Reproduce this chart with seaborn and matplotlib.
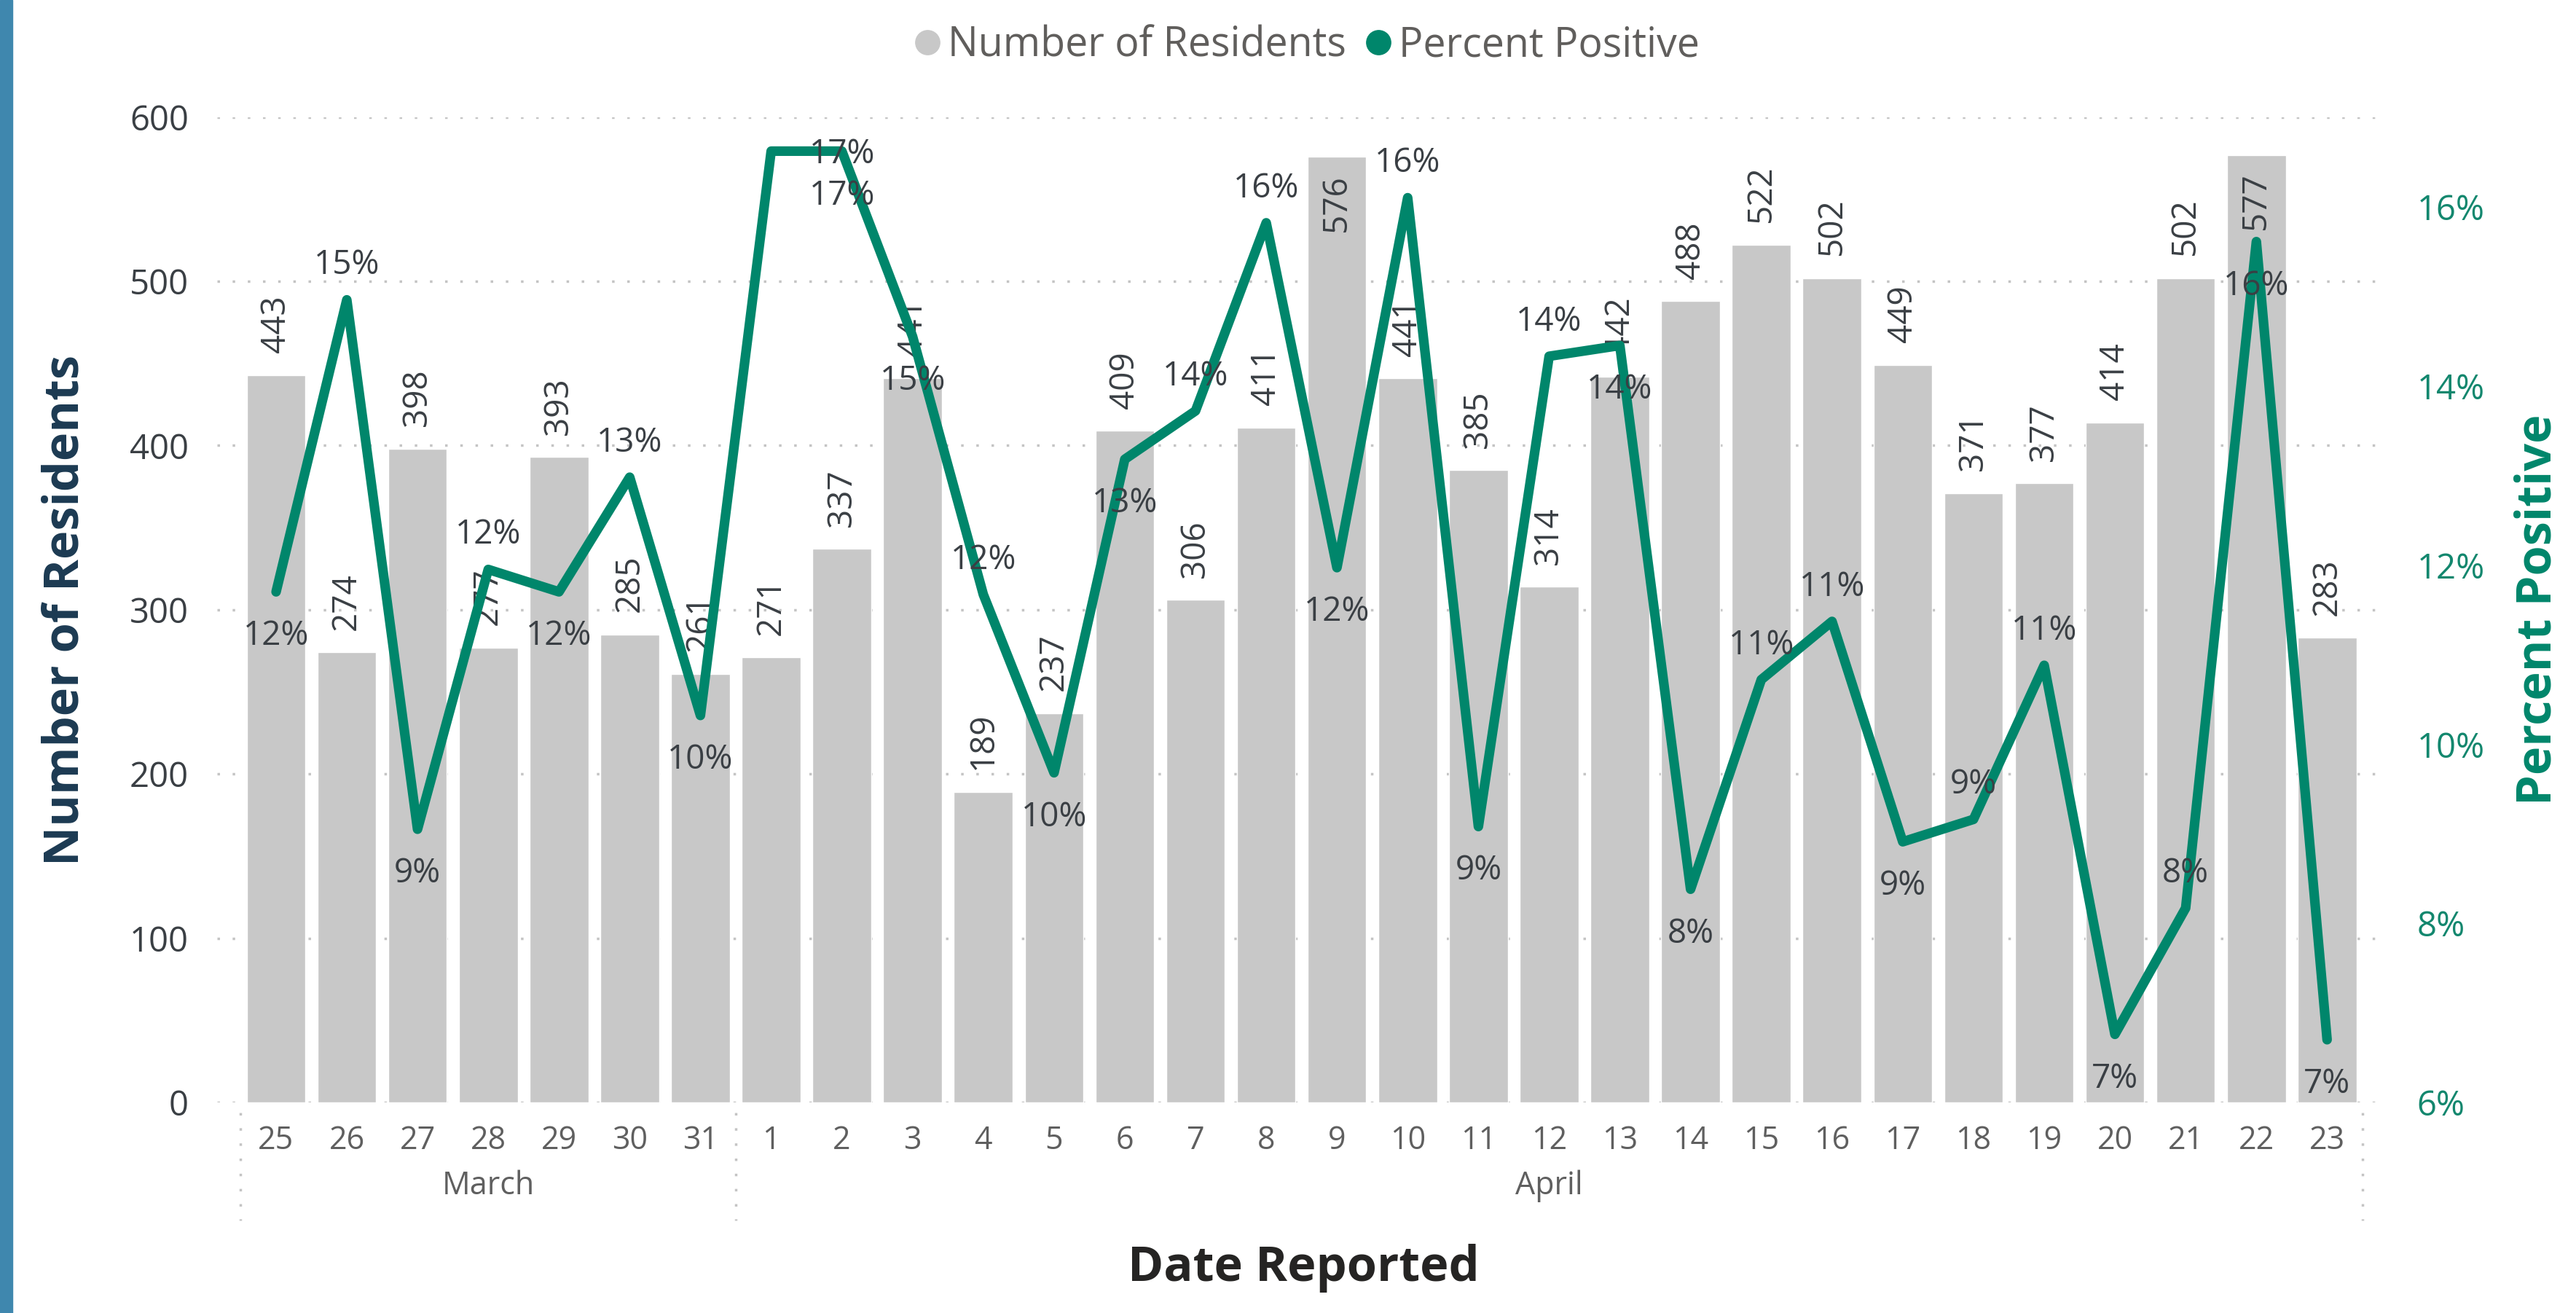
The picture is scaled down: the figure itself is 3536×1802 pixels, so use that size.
import numpy as np
import pandas as pd
import matplotlib.pyplot as plt
import matplotlib.transforms as mtransforms
from matplotlib.lines import Line2D
from matplotlib.patches import Rectangle
import seaborn as sns

# ----------- DONNÉES ------------
days = ['25', '26', '27', '28', '29', '30', '31',
        '1', '2', '3', '4', '5', '6', '7', '8', '9', '10', '11', '12',
        '13', '14', '15', '16', '17', '18', '19', '20', '21', '22', '23']
months = ['March', 'April']
month_sizes = [7, 23]

residents = [443, 274, 398, 277, 393, 285, 261,
             271, 337, 441, 189, 237, 409, 306, 411, 576, 441, 385, 314,
             442, 488, 522, 502, 449, 371, 377, 414, 502, 577, 283]

pct_positive = [11.7, 14.96, 9.05, 11.95, 11.7, 12.98, 10.32,
                16.62, 16.62, 14.55, 11.67, 9.68, 13.18, 13.72, 15.82, 11.97, 16.1, 9.08, 14.33,
                14.45, 8.38, 10.72, 11.37, 8.91, 9.16, 10.88, 6.76, 8.17, 15.61, 6.7]

# position des étiquettes du pourcentage : a = dessus, b = dessous, c = sur la ligne (décalée)
pct_label_pos = ['b', 'a', 'b', 'a', 'b', 'a', 'b',
                 'c', 'b', 'b', 'a', 'b', 'b', 'a', 'a', 'b', 'a', 'b', 'a',
                 'b', 'b', 'a', 'a', 'b', 'a', 'a', 'b', 'a', 'b', 'b']

df = pd.DataFrame({'day': days, 'residents': residents, 'pct': pct_positive})
df['pos'] = np.arange(len(df))

# ----------- STYLE ------------
sns.set_theme(style='white')
plt.rcParams['font.family'] = ['Open Sans', 'DejaVu Sans']

BAR = '#C8C8C8'
GREEN = '#00866B'
NAVY = '#1C3A52'
TXT = '#3A3F44'

fig = plt.figure(figsize=(35.36, 18.02), dpi=100)
fig.patch.set_facecolor('white')
ax = fig.add_axes([298 / 3536, 1 - 1513 / 1802, (3272 - 298) / 3536, (1513 - 160.7) / 1802])

# bande bleue à gauche
fig.patches.append(Rectangle((0, 0), 17 / 3536, 1, transform=fig.transFigure,
                             color='#3F87AE', zorder=0))

# grille pointillée
for v in range(0, 601, 100):
    ax.axhline(v, color='#C4C4C4', lw=2.5, ls=(0, (1, 5)), zorder=0)

sns.barplot(data=df, x='day', y='residents', order=days, color=BAR,
            saturation=1, width=0.83, ax=ax, zorder=2)

ax.set_ylim(0, 600)
ax.set_xlim(-0.834, 29.8)
ax.set_yticks(range(0, 601, 100))
ax.tick_params(axis='y', labelsize=34, labelcolor=TXT, length=0, pad=28)
ax.tick_params(axis='x', labelsize=31, labelcolor='#5F5F5F', length=0, pad=22)
ax.set_xlabel('')
ax.set_ylabel('')
for s in ax.spines.values():
    s.set_visible(False)

# étiquettes des barres (à l'intérieur quand il n'y a pas la place au-dessus)
for i, v in enumerate(residents):
    if v > 540:
        ax.annotate(str(v), (i, v), xytext=(0, -18), textcoords='offset points',
                    rotation=90, ha='center', va='top', fontsize=33, color=TXT, zorder=3)
    else:
        ax.annotate(str(v), (i, v), xytext=(0, 22), textcoords='offset points',
                    rotation=90, ha='center', va='bottom', fontsize=33, color=TXT, zorder=3)

# séparateurs de mois + noms
trans = mtransforms.blended_transform_factory(ax.transData, ax.transAxes)
start = 0
bounds = [-0.5]
for m, n in zip(months, month_sizes):
    ax.text(start + (n - 1) / 2, -0.085, m, transform=trans, ha='center', va='center',
            fontsize=31, color='#5F5F5F')
    start += n
    bounds.append(start - 0.5)
for b in bounds:
    ax.plot([b, b], [-0.01, -0.12], transform=trans, color='#C4C4C4', lw=2.5,
            ls=(0, (1, 5)), clip_on=False)

# ----------- LIGNE POURCENTAGE ------------
ax2 = ax.twinx()
sns.lineplot(data=df, x='pos', y='pct', color=GREEN, lw=9.5, ax=ax2, zorder=4)
ax2.set_ylim(6, 17)
ax2.set_yticks([6, 8, 10, 12, 14, 16])
ax2.set_yticklabels([f'{t}%' for t in [6, 8, 10, 12, 14, 16]])
ax2.tick_params(axis='y', labelsize=34, labelcolor='#13876E', length=0, pad=33)
ax2.set_xlabel('')
ax2.set_ylabel('')
ax2.grid(False)
for s in ax2.spines.values():
    s.set_visible(False)

for i, (p, pos) in enumerate(zip(pct_positive, pct_label_pos)):
    txt = f'{round(p):d}%'
    if pos == 'a':
        xy, off = (i, p), (0, 34)
    elif pos == 'b':
        xy, off = (i, p), (0, -44)
    else:
        xy, off = (i + 1, p), (0, -3)
    ax2.annotate(txt, xy, xytext=off, textcoords='offset points', ha='center',
                 va='center', fontsize=33, color=TXT, zorder=5)

# ----------- TITRES / LÉGENDE ------------
fig.text(90 / 3536, 0.5355, 'Number of Residents', rotation=90, ha='center', va='center',
         fontsize=48, fontweight='bold', color=NAVY)
fig.text(3484 / 3536, 0.5355, 'Percent Positive', rotation=90, ha='center', va='center',
         fontsize=48, fontweight='bold', color=GREEN)
fig.text(0.506, 1 - 1741 / 1802, 'Date Reported', ha='center', va='center',
         fontsize=48, fontweight='bold', color='#252423')

handles = [Line2D([], [], marker='o', ls='', color=BAR, markersize=24),
           Line2D([], [], marker='o', ls='', color=GREEN, markersize=24)]
fig.legend(handles, ['Number of Residents', 'Percent Positive'], loc='center',
           bbox_to_anchor=(0.506, 1 - 63 / 1802), ncol=2, frameon=False,
           fontsize=40, labelcolor='#605E5C', handletextpad=0.0, columnspacing=0.3,
           handlelength=1.0)

fig.savefig('out.png', dpi=100, facecolor='white')
